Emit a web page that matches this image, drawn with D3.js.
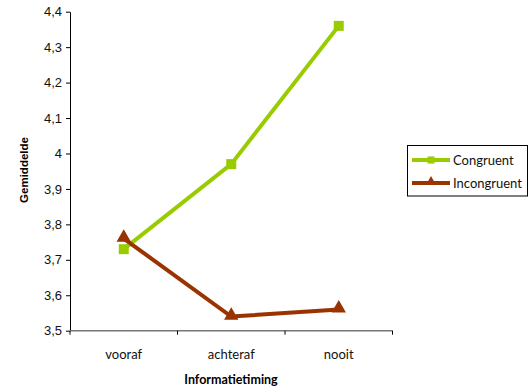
<!DOCTYPE html>
<html><head><meta charset="utf-8">
<script src="https://cdn.jsdelivr.net/npm/d3@7"></script>
<style>body{margin:0;background:#fff}svg{display:block}</style>
</head><body>
<script>
const categories = ["vooraf", "achteraf", "nooit"];
const congruent = [3.73, 3.97, 4.36];
const incongruent = [3.76, 3.54, 3.56];
const yTicks = [3.5, 3.6, 3.7, 3.8, 3.9, 4.0, 4.1, 4.2, 4.3, 4.4];
const seriesNames = ["Congruent", "Incongruent"];
const colors = ["#99cc00", "#993300"];

const W = 529, H = 392;
const svg = d3.select("body").append("svg").attr("width", W).attr("height", H);

const x = d3.scaleBand().domain(categories).range([70, 392.5]);
const y = d3.scaleLinear().domain([3.5, 4.4]).range([330.7, 11.7]);

const fmt = v => (v === 4 ? "4" : d3.format(".1f")(v).replace(".", ","));

// y axis
const gy = svg.append("g").attr("transform", "translate(70,0)")
  .call(d3.axisLeft(y).tickValues(yTicks).tickFormat(fmt).tickSize(4).tickSizeOuter(0));
gy.select(".domain").attr("stroke", "#000");
gy.selectAll("text").attr("font-family", "Liberation Sans, Arial").attr("font-size", 13).attr("fill", "#111").attr("x", -8);

// x axis
const gx = svg.append("g").attr("transform", "translate(0,330.7)");
gx.append("line").attr("x1", 70).attr("x2", 392.5).attr("y1", 0).attr("y2", 0).attr("stroke", "#777").attr("stroke-width", 1.5);
const edges = [70, ...categories.map(c => x(c) + x.bandwidth())];
gx.selectAll("line.tick").data(edges).join("line").attr("class", "tick")
  .attr("x1", d => d).attr("x2", d => d).attr("y1", 0).attr("y2", 4).attr("stroke", "#000");
gx.selectAll("text").data(categories).join("text")
  .attr("x", d => x(d) + x.bandwidth() / 2).attr("y", 28)
  .attr("text-anchor", "middle").attr("font-family", "Lato, Carlito, sans-serif").attr("font-size", 13).attr("fill", "#111")
  .text(d => d);

// axis titles
svg.append("text").attr("transform", "translate(28,170) rotate(-90)").attr("text-anchor", "middle")
  .attr("font-family", "Liberation Sans, Arial").attr("font-weight", "bold").attr("font-size", 11.5).text("Gemiddelde");
svg.append("text").attr("x", 231).attr("y", 384).attr("text-anchor", "middle")
  .attr("font-family", "Lato, Carlito, sans-serif").attr("font-weight", "bold").attr("font-size", 12.5).text("Informatietiming");

const cx = c => x(c) + x.bandwidth() / 2;
const line = d3.line().x((d, i) => cx(categories[i])).y(d => y(d));

const series = [congruent, incongruent];
const square = d3.symbol().type(d3.symbolSquare).size(100);
const tri = d3.symbol().type(d3.symbolTriangle).size(90);

series.forEach((vals, s) => {
  svg.append("path").attr("d", line(vals)).attr("fill", "none").attr("stroke", colors[s]).attr("stroke-width", 4);
});
series.forEach((vals, s) => {
  svg.selectAll(null).data(vals).join("path")
    .attr("transform", (d, i) => `translate(${cx(categories[i])},${y(d) - (s === 1 ? 1 : 0)})`)
    .attr("d", s === 0 ? square() : tri()).attr("fill", colors[s]);
});

// legend
const lg = svg.append("g");
lg.append("rect").attr("x", 407.5).attr("y", 145.5).attr("width", 120).attr("height", 50.5)
  .attr("fill", "#fff").attr("stroke", "#000").attr("stroke-width", 1);
seriesNames.forEach((n, s) => {
  const yy = 160 + s * 23;
  lg.append("line").attr("x1", 412).attr("x2", 450).attr("y1", yy).attr("y2", yy).attr("stroke", colors[s]).attr("stroke-width", 4);
  lg.append("path").attr("transform", `translate(431,${yy - (s === 1 ? 1 : 0)})`)
    .attr("d", s === 0 ? d3.symbol().type(d3.symbolSquare).size(50)() : d3.symbol().type(d3.symbolTriangle).size(45)())
    .attr("fill", colors[s]);
  lg.append("text").attr("x", 453).attr("y", yy + 4.5).attr("font-family", "Lato, Carlito, sans-serif").attr("font-size", 13).attr("fill", "#111").text(n);
});
</script>
</body></html>
